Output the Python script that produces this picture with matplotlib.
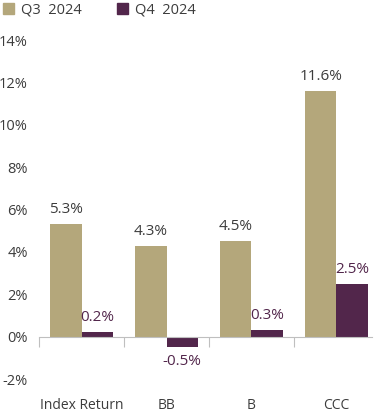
import numpy as np
import matplotlib
matplotlib.use("Agg")
import matplotlib.pyplot as plt
from matplotlib.patches import Patch

plt.rcParams['font.family'] = ['Open Sans', 'DejaVu Sans']

# donnees
categories = ["Index Return", "BB", "B", "CCC"]
series_names = ["Q3  2024", "Q4  2024"]
q3 = [5.3, 4.3, 4.5, 11.6]
q4 = [0.2, -0.5, 0.3, 2.5]
yticks = [-2, 0, 2, 4, 6, 8, 10, 12, 14]

c_q3 = "#b4a77b"
c_q4 = "#52264b"
c_txt = "#3c3c3c"

fig = plt.figure(figsize=(3.8, 4.15), dpi=100)
ax = fig.add_axes([0.103, 0.0867, 0.876, 0.8169])

x = np.arange(len(categories))
w = 0.37
b1 = ax.bar(x - w/2, q3, w, color=c_q3)
b2 = ax.bar(x + w/2, q4, w, color=c_q4)

# etiquettes des valeurs
for rect, v in zip(b1, q3):
    ax.annotate(f"{v:.1f}%", (rect.get_x() + rect.get_width()/2, v),
                xytext=(0, 5), textcoords="offset points",
                ha="center", va="bottom", fontsize=11, color=c_txt)
for rect, v in zip(b2, q4):
    off = 5 if v >= 0 else -5
    ax.annotate(f"{v:.1f}%", (rect.get_x() + rect.get_width()/2, v),
                xytext=(0, off), textcoords="offset points",
                ha="center", va="bottom" if v >= 0 else "top",
                fontsize=11, color=c_q4)

ax.set_ylim(-2, 14)
ax.set_xlim(-0.5, 3.42)
ax.set_yticks(yticks)
ax.set_yticklabels([f"{t}%" for t in yticks])
ax.tick_params(axis="y", length=0, pad=8, labelsize=10.5, labelcolor=c_txt)

for s in ["top", "right", "left"]:
    ax.spines[s].set_visible(False)
ax.spines["bottom"].set_position(("data", 0))
ax.spines["bottom"].set_color("#bfbfbf")

# separateurs de categories sur l'axe zero
ax.set_xticks(np.arange(len(categories)) - 0.5)
ax.set_xticklabels([""] * len(categories))
ax.tick_params(axis="x", which="major", direction="out", length=7, color="#bfbfbf")
ax.set_xticks(x, minor=True)
ax.set_xticklabels(categories, minor=True)
ax.tick_params(axis="x", which="minor", length=0, pad=44, labelsize=10, labelcolor=c_txt)

handles = [Patch(color=c_q3), Patch(color=c_q4)]
fig.legend(handles, series_names, loc="upper left", bbox_to_anchor=(-0.012, 1.012),
           ncol=2, frameon=False, fontsize=10.5, handlelength=0.75, handleheight=0.75,
           handletextpad=0.5, columnspacing=2.4, borderaxespad=0.1,
           labelcolor=c_txt)

fig.savefig("out.png", dpi=100)
